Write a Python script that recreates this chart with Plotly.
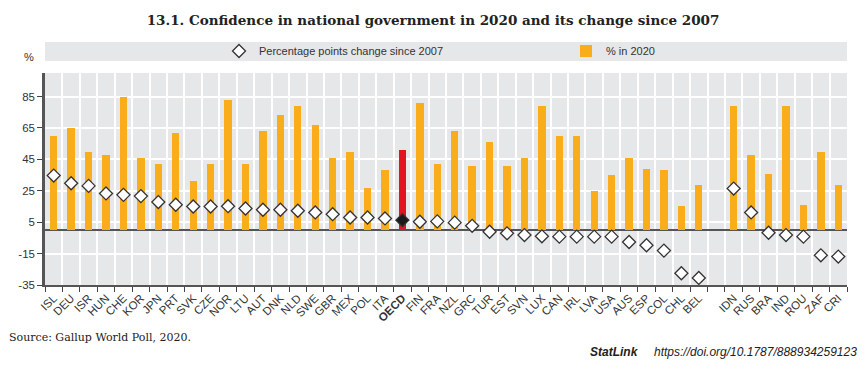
import plotly.graph_objects as go

countries = ["ISL", "DEU", "ISR", "HUN", "CHE", "KOR", "JPN", "PRT", "SVK", "CZE",
             "NOR", "LTU", "AUT", "DNK", "NLD", "SWE", "GBR", "MEX", "POL", "ITA",
             "OECD", "FIN", "FRA", "NZL", "GRC", "TUR", "EST", "SVN", "LUX", "CAN",
             "IRL", "LVA", "USA", "AUS", "ESP", "COL", "CHL", "BEL", " ",
             "IDN", "RUS", "BRA", "IND", "ROU", "ZAF", "CRI"]

pct_2020 = [60, 65, 50, 48, 85, 46, 42, 62, 31, 42,
            83, 42, 63, 73, 79, 67, 46, 50, 27, 38,
            51, 81, 42, 63, 41, 56, 41, 46, 79, 60,
            60, 25, 35, 46, 39, 38, 15, 29, None,
            79, 48, 36, 79, 16, 50, 28.5]

change_since_2007 = [34.7, 29.8, 28.1, 23.3, 22.4, 21.6, 17.8, 16.1, 15.0, 15.0,
                     15.2, 13.7, 12.9, 12.9, 12.3, 11.2, 10.1, 8.0, 8.0, 7.4,
                     6.3, 5.3, 5.5, 4.7, 2.7, -1.1, -2.1, -3.2, -4.0, -4.2,
                     -4.2, -4.2, -4.2, -7.6, -9.7, -13.1, -27.5, -30.5, None,
                     26.4, 11.2, -1.7, -3.2, -4.2, -16.1, -16.9]

y_ticks = [-35, -15, 5, 25, 45, 65, 85]
y_tick_labels = ["-35", "-15", "5", "25", "45", "65", "85"]

ORANGE = "#F9AD1B"
RED = "#E0161F"
SANS = "Liberation Sans Narrow, Arial Narrow, Liberation Sans, Arial"
SERIF = "DejaVu Serif, Liberation Serif, serif"

bar_colors = [RED if c == "OECD" else ORANGE for c in countries]
dia_fill = ["#1a1a1a" if c == "OECD" else "white" for c in countries]
tick_text = ["<b>OECD</b>" if c == "OECD" else c for c in countries]

fig = go.Figure()
fig.add_trace(go.Bar(
    x=countries, y=pct_2020, name="% in 2020",
    marker=dict(color=bar_colors, line=dict(width=0)),
    width=0.42, legend="legend2",
))
fig.add_trace(go.Scatter(
    x=countries, y=change_since_2007, mode="markers",
    name="Percentage points change since 2007",
    marker=dict(symbol="diamond", size=10, color=dia_fill,
                line=dict(color="#333333", width=1.3)),
    legend="legend",
))

# the page body has an 8px margin, so the figure is drawn offset by (8, 8)
OFF = 8
W, H = 866 - 2 * OFF, 371 - 2 * OFF
# plot area in reference-pixel terms: x 45..847, y 73..285
ML = 45 - OFF
MR = W - (847 - OFF)
MT = 73 - OFF
MB = H - (285 - OFF)
PW = W - ML - MR
PH = H - MT - MB


def px_x(x):
    return (x - OFF - ML) / PW


def px_y(y):
    return (H - MB - (y - OFF)) / PH


leg_common = dict(orientation="h", yanchor="middle", xanchor="left",
                  bgcolor="rgba(0,0,0,0)", borderwidth=0,
                  font=dict(family=SANS, size=11, color="#333333"), itemclick=False)

fig.update_layout(
    width=W, height=H,
    margin=dict(l=ML, r=MR, t=MT, b=MB, autoexpand=False),
    paper_bgcolor="white", plot_bgcolor="#E6E7E9",
    font=dict(family=SANS, size=11, color="#333333"),
    showlegend=True,
    legend=dict(x=px_x(219), y=px_y(51), **leg_common),
    legend2=dict(x=px_x(566), y=px_y(51), **leg_common),
    title=dict(text="<b>13.1. Confidence in national government in 2020 and its change since 2007</b>",
               x=0.5 + (433 - OFF - W / 2) / W, xanchor="center", y=1 - (20 - OFF) / H, yanchor="middle",
               font=dict(family=SERIF, size=13.5, color="#222222")),
    bargap=0,
)

fig.update_xaxes(
    type="category", categoryorder="array", categoryarray=countries,
    tickmode="array", tickvals=countries, ticktext=tick_text,
    tickson="boundaries", ticks="outside", ticklen=5, tickcolor="#444444", tickwidth=1,
    showgrid=True, gridcolor="white", gridwidth=1.5,
    tickangle=-45, tickfont=dict(family=SANS, size=11.5, color="#333333"),
    showline=True, linecolor="#555555", linewidth=2,
    range=[-0.5, len(countries) - 0.5],
)
fig.update_yaxes(
    range=[-35, 100], tickmode="array", tickvals=y_ticks, ticktext=y_tick_labels,
    ticks="outside", ticklen=5, tickcolor="#444444",
    showgrid=True, gridcolor="white", gridwidth=1.5,
    zeroline=True, zerolinecolor="#555555", zerolinewidth=1.5,
    showline=True, linecolor="#555555", linewidth=2.5,
    tickfont=dict(family=SANS, size=11.5, color="#333333"),
)

# legend band
fig.add_shape(type="rect", xref="paper", yref="paper", x0=0, x1=1, y0=px_y(61), y1=px_y(42),
              fillcolor="#E6E7E9", line=dict(width=0), layer="below")

fig.add_annotation(text="%", xref="paper", yref="paper", x=px_x(29), y=px_y(57), xanchor="center",
                   yanchor="middle", showarrow=False,
                   font=dict(family=SANS, size=11, color="#333333"))
fig.add_annotation(text="Source: Gallup World Poll, 2020.", xref="paper", yref="paper",
                   x=px_x(7), y=px_y(337), xanchor="left", yanchor="middle", showarrow=False,
                   font=dict(family=SERIF, size=11, color="#222222"))
fig.add_annotation(text="<b><i>StatLink</i></b>     <i>https://doi.org/10.1787/888934259123</i>",
                   xref="paper", yref="paper", x=px_x(859), y=px_y(352), xanchor="right", yanchor="middle",
                   showarrow=False,
                   font=dict(family=SANS, size=12, color="#222222"))

fig.write_html("out.html")
